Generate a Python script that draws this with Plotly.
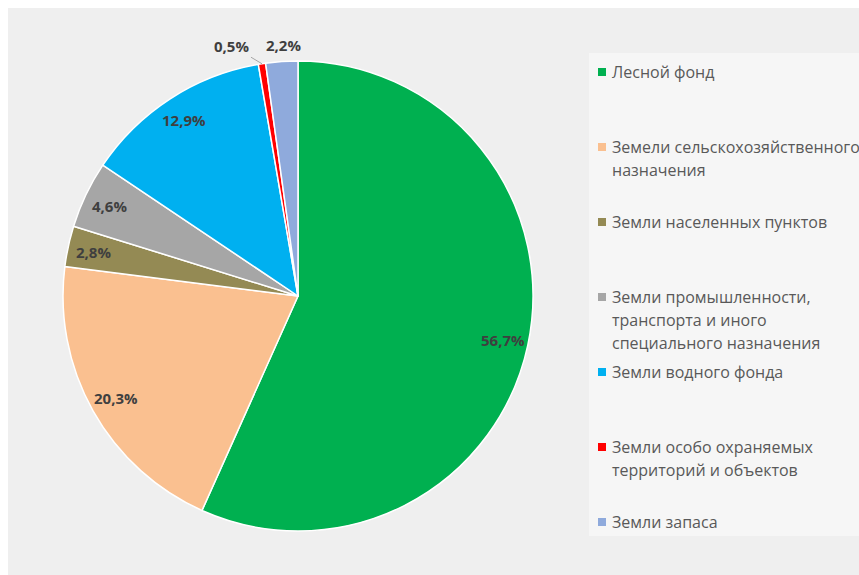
import math
import plotly.graph_objects as go

# Land fund structure by category, percent of total area
categories = [
    "Лесной фонд",
    "Земели сельскохозяйственного назначения",
    "Земли населенных пунктов",
    "Земли промышленности, транспорта и иного специального назначения",
    "Земли водного фонда",
    "Земли особо охраняемых территорий и объектов",
    "Земли запаса",
]
shares = [56.7, 20.3, 2.8, 4.6, 12.9, 0.5, 2.2]
colors = ["#00B050", "#FAC090", "#948A54", "#A6A6A6", "#00B0F0", "#FF0000", "#8FAADC"]

# Legend text broken into display lines
legend_lines = [
    ["Лесной фонд"],
    ["Земели сельскохозяйственного", "назначения"],
    ["Земли населенных пунктов"],
    ["Земли промышленности,", "транспорта и иного", "специального назначения"],
    ["Земли водного фонда"],
    ["Земли особо охраняемых", "территорий и объектов"],
    ["Земли запаса"],
]

W, H = 859, 575
CX, CY, R = 298, 296, 235  # pie centre and radius in pixels


def px(x):
    return x / W


def py(y):
    return 1 - y / H


def fmt(v):
    return f"{v:.1f}".replace(".", ",") + "%"


fig = go.Figure(
    go.Pie(
        labels=categories,
        values=shares,
        sort=False,
        direction="clockwise",
        rotation=0,
        marker=dict(colors=colors, line=dict(color="#FFFFFF", width=1.5)),
        textinfo="none",
        hoverinfo="label+percent",
        showlegend=False,
        domain=dict(x=[px(CX - R), px(CX + R)], y=[py(CY + R), py(CY - R)]),
    )
)

shapes = [
    # chart area background
    dict(type="rect", xref="paper", yref="paper", x0=px(8), x1=1, y0=0, y1=py(8),
         fillcolor="#EFEFEF", line=dict(width=0), layer="below"),
    # legend panel
    dict(type="rect", xref="paper", yref="paper", x0=px(589), x1=1, y0=py(536), y1=py(53),
         fillcolor="#F6F6F6", line=dict(width=0), layer="below"),
]
annotations = []

# Data labels placed along each slice's mid-angle
label_font = dict(family="Open Sans", size=15, color="#3F3F3F")
total = sum(shares)
cum = 0.0
for i, v in enumerate(shares):
    mid = (cum + v / 2) / total * 2 * math.pi
    cum += v
    sx, sy = math.sin(mid), -math.cos(mid)
    text = "<b>" + fmt(v) + "</b>"
    common = dict(xref="paper", yref="paper", xanchor="center", yanchor="middle",
                  text=text, font=label_font)
    if v >= 2.5:
        r = 0.89 * R
        annotations.append(dict(x=px(CX + r * sx), y=py(CY + r * sy), showarrow=False, **common))
    elif v < 1:
        r = R
        annotations.append(dict(x=px(CX + r * sx), y=py(CY + r * sy), showarrow=True,
                                arrowhead=0, arrowwidth=1, arrowcolor="#A6A6A6",
                                ax=-30, ay=-18, **common))
    else:
        r = 1.07 * R
        annotations.append(dict(x=px(CX + r * sx + 3), y=py(CY + r * sy), showarrow=False, **common))

# Legend: colour swatch and wrapped text per category
legend_font = dict(family="Open Sans", size=16, color="#595959")
for i, lines in enumerate(legend_lines):
    y0 = 72 + i * 75
    shapes.append(dict(type="rect", xref="paper", yref="paper",
                       x0=px(598), x1=px(606), y0=py(y0 + 4), y1=py(y0 - 4),
                       fillcolor=colors[i], line=dict(width=0)))
    for j, line in enumerate(lines):
        annotations.append(dict(x=px(610), y=py(y0 + j * 23), xref="paper", yref="paper",
                                xanchor="left", yanchor="middle", text=line,
                                showarrow=False, font=legend_font))

fig.update_layout(
    width=W,
    height=H,
    margin=dict(l=0, r=0, t=0, b=0),
    paper_bgcolor="#FFFFFF",
    plot_bgcolor="#FFFFFF",
    shapes=shapes,
    annotations=annotations,
)

fig.write_html("out.html")
